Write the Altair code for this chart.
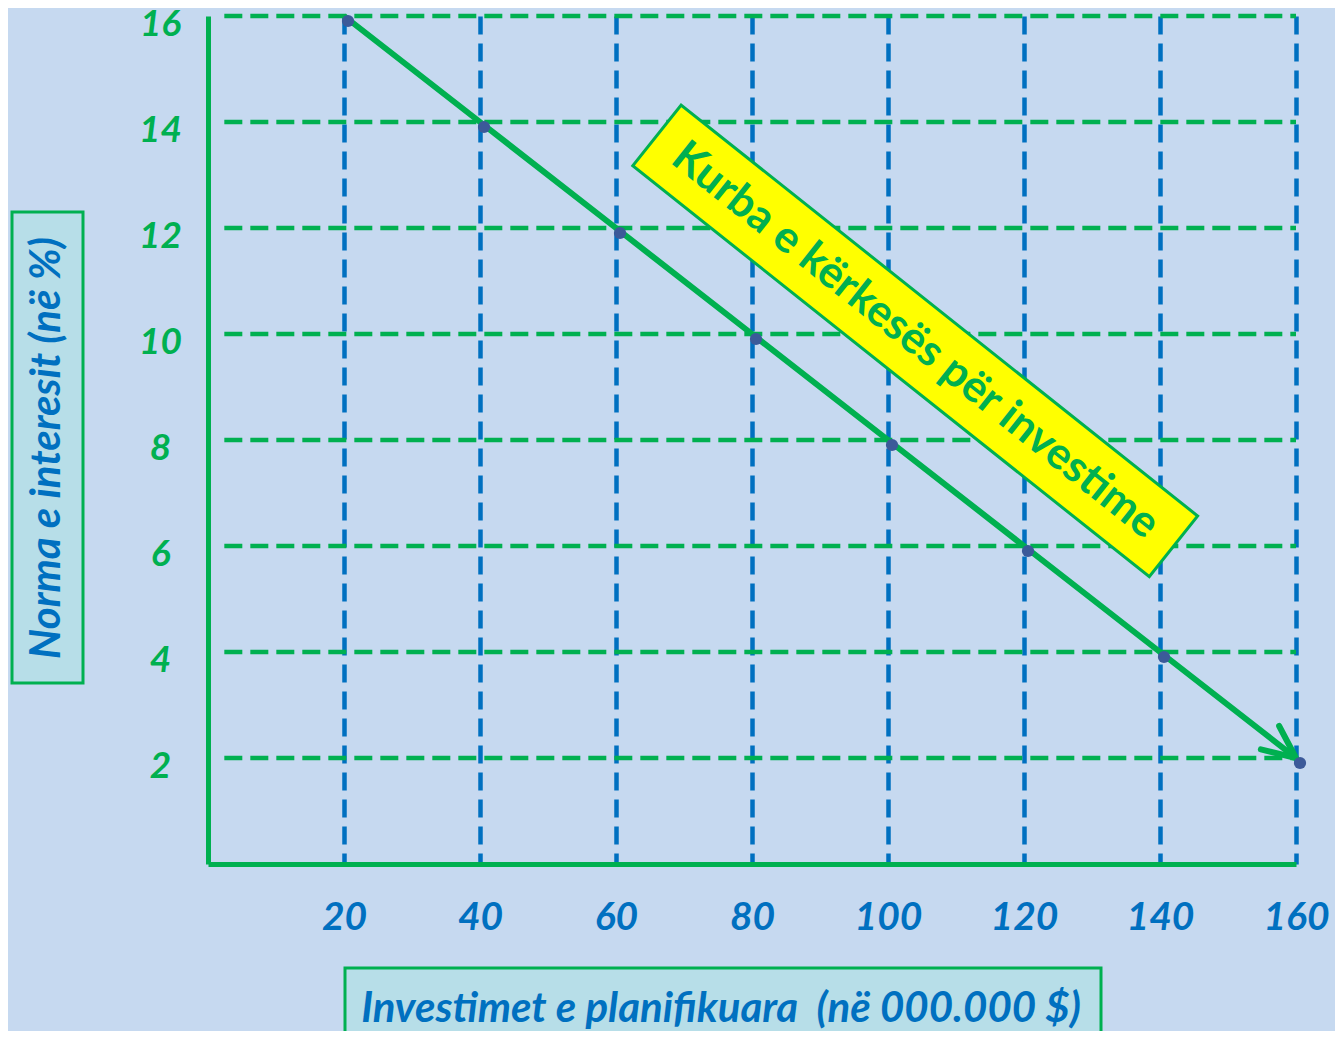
import altair as alt
import pandas as pd

# ---- data ----
investment = [20, 40, 60, 80, 100, 120, 140, 160]
rate = [16, 14, 12, 10, 8, 6, 4, 2]
x_ticks = [20, 40, 60, 80, 100, 120, 140, 160]
y_ticks = [2, 4, 6, 8, 10, 12, 14, 16]
x_title = "Investimet e planifikuara \u00a0(në 000.000 $)"
y_title = "Norma e interesit (në %)"
curve_label = "Kurba e kërkesës për investime"
label_pos = {"x": 104.0, "y": 9.87}

GREEN = "#00B050"
BLUE = "#0070C0"
BG = "#C6D9F0"
BOX = "#B7DEE8"
DOT = "#3C5A99"
FONT = "Lato"

W, H = 1088, 848

df = pd.DataFrame({"x": investment, "y": rate})
xs = alt.Scale(domain=[0, 160], nice=False, zero=False)
ys = alt.Scale(domain=[0, 16], nice=False, zero=False)

xaxis = alt.Axis(values=x_ticks, title=None, domainColor=GREEN, domainWidth=5,
                 ticks=False, tickSize=0, labelPadding=53, labelBaseline="middle",
                 labelFlush=False, labelOverlap=False,
                 labelColor=BLUE, labelFont=FONT, labelFontSize=39,
                 labelFontStyle="italic", labelFontWeight="bold",
                 grid=True, gridColor=BLUE, gridDash=[18, 9], gridWidth=4.5,
                 gridOpacity=1)
yaxis = alt.Axis(values=y_ticks, title=None, domainColor=GREEN, domainWidth=5,
                 ticks=False, tickSize=0, labelPadding=48, labelAlign="center",
                 labelBaseline="middle", labelOffset=8, labelFlush=False,
                 labelOverlap=False,
                 labelColor=GREEN, labelFont=FONT, labelFontSize=37,
                 labelFontStyle="italic", labelFontWeight="bold", grid=False)


def X(f):
    return alt.X(f, scale=xs, axis=xaxis)


def Y(f):
    return alt.Y(f, scale=ys, axis=yaxis)


hgrid_df = pd.DataFrame({"y": y_ticks, "x0": [2.4] * len(y_ticks), "x1": [160] * len(y_ticks)})
hgrid = alt.Chart(hgrid_df).mark_rule(color=GREEN, strokeWidth=4.5, strokeDash=[18, 8]).encode(
    x=X("x0:Q"), x2="x1:Q", y=Y("y:Q"))

line = alt.Chart(df).mark_line(color=GREEN, strokeWidth=6).encode(x=X("x:Q"), y=Y("y:Q"))

arrow = alt.Chart(df.tail(1)).mark_point(
    shape="M-1,-0.45L0,0L-1,0.45", size=4356, angle=38, filled=False,
    stroke=GREEN, strokeWidth=6, strokeCap="round", strokeJoin="round", opacity=1
).encode(x=X("x:Q"), y=Y("y:Q"))

points = alt.Chart(df).mark_circle(size=150, color=DOT, opacity=1, xOffset=4, yOffset=5).encode(
    x=X("x:Q"), y=Y("y:Q"))

lab_df = pd.DataFrame([label_pos])
label_box = alt.Chart(lab_df).mark_point(
    shape="M-1,-0.1176L1,-0.1176L1,0.1176L-1,0.1176Z", size=660 ** 2, angle=38.5,
    filled=True, fill="#FFFF00", stroke=GREEN, strokeWidth=3, opacity=1
).encode(x=X("x:Q"), y=Y("y:Q"))
label_text = alt.Chart(lab_df).mark_text(
    text=curve_label, angle=38.5, font=FONT, fontSize=44, fontWeight="bold",
    color=GREEN, align="center", baseline="middle"
).encode(x=X("x:Q"), y=Y("y:Q"))

one = pd.DataFrame({"k": [0]})
ybox = alt.Chart(one).mark_rect(fill=BOX, stroke=GREEN, strokeWidth=3).encode(
    x=alt.value(-196), x2=alt.value(-125), y=alt.value(196), y2=alt.value(667))
ytext = alt.Chart(one).mark_text(
    text=y_title, angle=270, font=FONT, fontSize=42, fontWeight="bold", fontStyle="italic",
    color=BLUE, align="center", baseline="middle").encode(x=alt.value(-161), y=alt.value(432))
xbox = alt.Chart(one).mark_rect(fill=BOX, stroke=GREEN, strokeWidth=3).encode(
    x=alt.value(137), x2=alt.value(893), y=alt.value(952), y2=alt.value(1018))
xtext = alt.Chart(one).mark_text(
    text=x_title, font=FONT, fontSize=42, fontWeight="bold", fontStyle="italic",
    color=BLUE, align="center", baseline="middle").encode(x=alt.value(513), y=alt.value(993))

chart = alt.layer(hgrid, line, arrow, points, label_box, label_text,
                  ybox, ytext, xbox, xtext).properties(
    width=W, height=H,
    autosize=alt.AutoSizeParams(type="none"),
    padding={"left": 200, "top": 8, "right": 39, "bottom": 167},
    background=BG,
).configure_view(strokeWidth=0)

chart.save("out.html", embed_options={"renderer": "svg", "actions": False})
